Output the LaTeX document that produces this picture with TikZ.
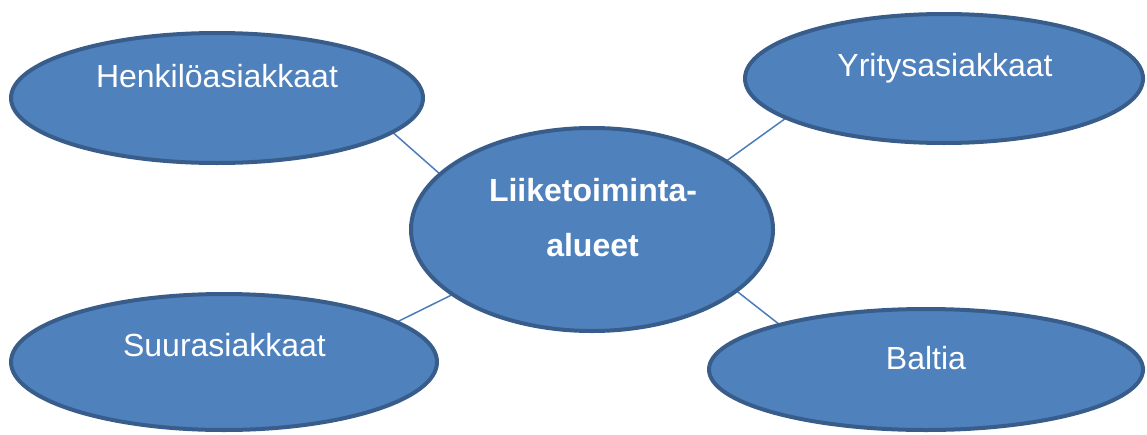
\documentclass[tikz,border=0pt]{standalone}
\usepackage{fontspec}
\setmainfont{Liberation Sans}
\usetikzlibrary{shapes.geometric}
\definecolor{ovfill}{HTML}{4F81BD}
\definecolor{ovline}{HTML}{385D8A}
\definecolor{conn}{HTML}{4A7EBB}
\pgfdeclarelayer{bg}
\pgfsetlayers{bg,main}
\tikzset{
  oval/.style={ellipse, fill=ovfill, draw=ovline, line width=4pt, inner sep=0pt, outer sep=0pt},
  lbl/.style={anchor=base, text=white, inner sep=0pt, font=\fontsize{32}{38}\selectfont},
  blbl/.style={lbl, font=\fontsize{32}{38}\selectfont\bfseries},
  link/.style={draw=conn, line width=1.5pt}
}
\begin{document}
\begin{tikzpicture}[x=1pt,y=-1pt]
\useasboundingbox (0,0) rectangle (1147,434);
\node[oval, minimum width=412pt, minimum height=130pt] (h) at (217,98) {};
\node[oval, minimum width=398pt, minimum height=129pt] (y) at (944,78.5) {};
\node[oval, minimum width=362pt, minimum height=203pt] (c) at (592,229.5) {};
\node[oval, minimum width=426pt, minimum height=136pt] (s) at (224,362) {};
\node[oval, minimum width=434pt, minimum height=121pt] (b) at (926,369.5) {};
\node[lbl] (ht) at (217,87) {Henkilöasiakkaat};
\node[lbl] (yt) at (945,76) {Yritysasiakkaat};
\node[lbl] (st) at (224.5,356) {Suurasiakkaat};
\node[lbl] (bt) at (926,369) {Baltia};
\node[blbl] (ct1) at (593,201) {Liiketoiminta-};
\node[blbl] (ct2) at (592.5,256) {alueet};
\begin{pgfonlayer}{bg}
\draw[link] (h.-11.6) -- (c.160);
\draw[link] (y.194.7) -- (c.27.6);
\draw[link] (s.13.7) -- (c.205.9);
\draw[link] (b.163.4) -- (c.-23.3);
\end{pgfonlayer}
\end{tikzpicture}
\end{document}
